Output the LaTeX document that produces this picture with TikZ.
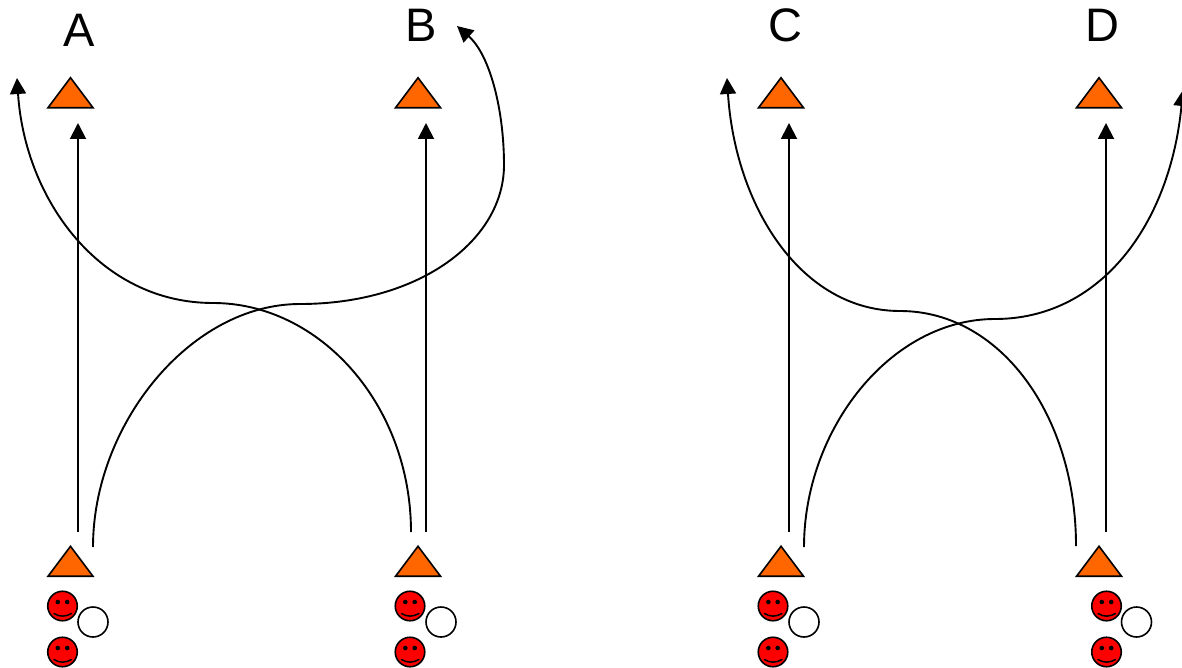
\documentclass[tikz,border=0pt]{standalone}
\usepackage{fontspec}
\setmainfont{Liberation Sans}
\usetikzlibrary{shapes.geometric,arrows.meta}
\tikzset{
  x=1pt,y=-1pt,
  tri/.style={draw=black,fill=triorange,line width=1.6pt,line join=miter,isosceles triangle,isosceles triangle stretches,shape border rotate=90,minimum width=45pt,minimum height=30pt,inner sep=0pt,outer sep=0pt},
  face/.style={circle,draw=black,fill=red,line width=1.6pt,minimum size=29.5pt,inner sep=0pt},
  blank/.style={circle,draw=black,fill=white,line width=1.6pt,minimum size=30pt,inner sep=0pt},
  lab/.style={font=\fontsize{47}{47}\selectfont,inner sep=0pt,text=black},
  arr/.style={line width=1.9pt,draw=black,-{Triangle[length=16pt,width=16pt]}},
}
\definecolor{triorange}{RGB}{255,102,0}
\newcommand{\smileyface}[3]{%
  \node[face] (#1) at (#2,#3) {};
  \fill[black] (#2-4.7,#3-4) circle (2.3) (#2+4.7,#3-4) circle (2.3);
  \draw[black,line width=1.5pt,line cap=round] (#2-8.5,#3+7.5) .. controls (#2-3,#3+11) and (#2+3,#3+11) .. (#2+9,#3+7.5);
}
\begin{document}
\begin{tikzpicture}
\useasboundingbox (0,0) rectangle (1182,668);
% labels
\node[lab] (A) at (79,30) {A};
\node[lab] (B) at (421,25) {B};
\node[lab] (C) at (785,25) {C};
\node[lab] (D) at (1102,25) {D};
% top triangles
\node[tri] (tA) at (70.5,96.5) {};
\node[tri] (tB) at (418,96.5) {};
\node[tri] (tC) at (781,96.5) {};
\node[tri] (tD) at (1099,96.5) {};
% bottom triangles
\node[tri] (bA) at (70.5,565) {};
\node[tri] (bB) at (418,565) {};
\node[tri] (bC) at (781,565) {};
\node[tri] (bD) at (1099,565) {};
% people
\node[blank] (wA) at (93,622) {};
\node[blank] (wB) at (441,622) {};
\node[blank] (wC) at (804,622) {};
\node[blank] (wD) at (1136.5,622) {};
\smileyface{fA1}{62.5}{606}
\smileyface{fA2}{62.5}{652}
\smileyface{fB1}{410}{606}
\smileyface{fB2}{410}{652}
\smileyface{fC1}{773}{606}
\smileyface{fC2}{773}{652}
\smileyface{fD1}{1106.5}{606}
\smileyface{fD2}{1106.5}{652}
% connector ends
\coordinate (vA0) at (78,532); \coordinate (vA1) at (78,123);
\coordinate (vB0) at (426,532); \coordinate (vB1) at (426,123);
\coordinate (vC0) at (789,532); \coordinate (vC1) at (789,123);
\coordinate (vD0) at (1106,532); \coordinate (vD1) at (1106,123);
\draw[arr] (vA0) -- (vA1);
\draw[arr] (vB0) -- (vB1);
\draw[arr] (vC0) -- (vC1);
\draw[arr] (vD0) -- (vD1);
\coordinate (cA0) at (411,532); \coordinate (cA1) at (17,78);
\coordinate (cB0) at (93,547); \coordinate (cB1) at (457,26);
\coordinate (cC0) at (1076,546); \coordinate (cC1) at (727,78);
\coordinate (cD0) at (804,547); \coordinate (cD1) at (1183,90);
\draw[arr] (cA0) .. controls (411,405) and (320,303) .. (213,303) .. controls (100,303) and (25,200) .. (cA1);
\draw[arr] (cB0) .. controls (93,425) and (190,304) .. (300,304) .. controls (420,304) and (504,240) .. (504,165) .. controls (504,110) and (490,55) .. (cB1);
\draw[arr] (cC0) .. controls (1076,415) and (1000,311) .. (900,311) .. controls (800,311) and (735,205) .. (cC1);
\draw[arr] (cD0) .. controls (804,430) and (890,319) .. (995,319) .. controls (1100,319) and (1170,225) .. (cD1);
\end{tikzpicture}
\end{document}
